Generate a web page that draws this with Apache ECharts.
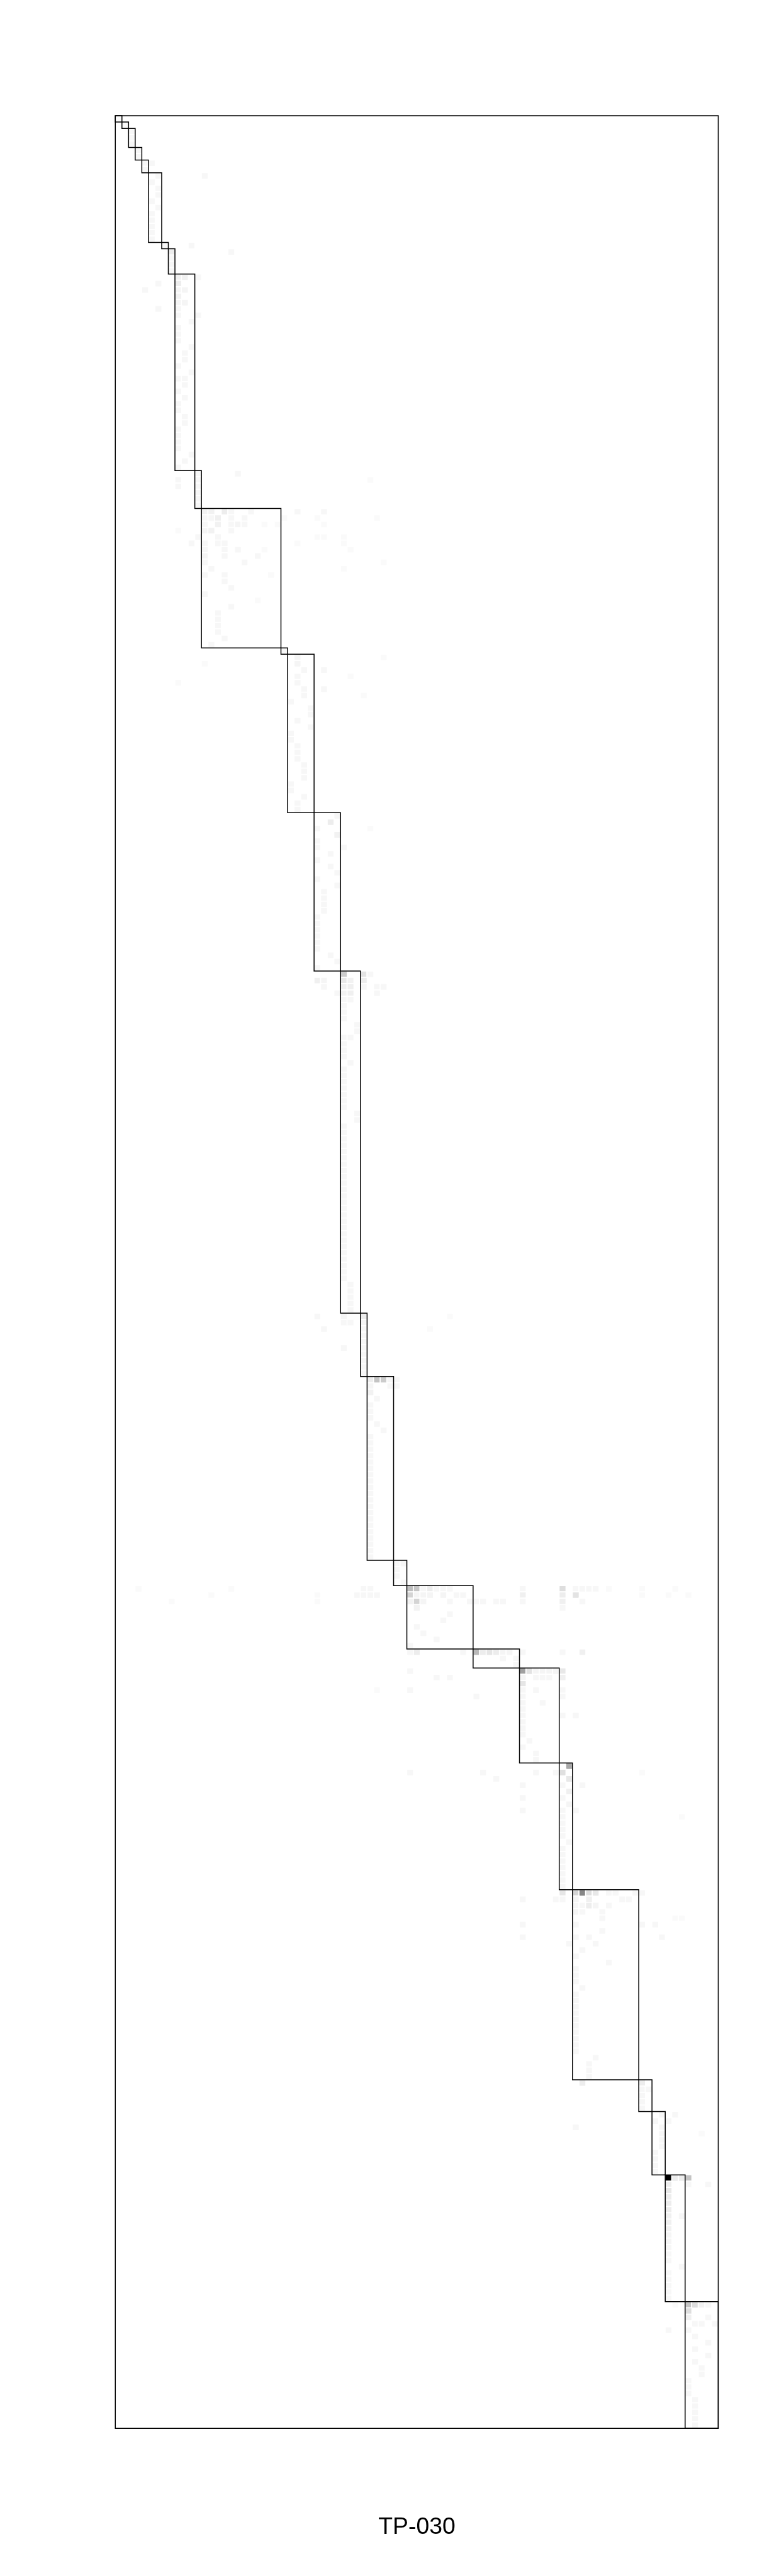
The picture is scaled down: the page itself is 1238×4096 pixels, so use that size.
<!DOCTYPE html>
<html>
<head>
<meta charset="utf-8">
<script src="https://cdn.jsdelivr.net/npm/echarts@6/dist/echarts.min.js"></script>
<style>
html,body{margin:0;padding:0;background:#fff;}
#chart{width:1238px;height:4096px;}
</style>
</head>
<body>
<div id="chart"></div>
<script>
// ---------- data ----------
const nCols = 91;
const nRows = 365;
const titleText = 'TP-030';
// block (box) boundaries along the diagonal: box i spans cols [colBounds[i], colBounds[i+1]) and rows [rowBounds[i], rowBounds[i+1])
const colBounds = [0,1,2,3,4,5,7,8,9,12,13,25,26,30,34,37,38,42,44,54,61,67,69,79,81,83,86,91];
const rowBounds = [0,1,2,5,7,9,20,21,25,56,62,84,85,110,135,189,199,228,232,242,245,260,280,310,315,325,345,365];

// non-empty cells: [col, row, intensity 0..1]
const cellsTop = [
[0,0,.02],[1,1,.02],[2,2,.03],[2,3,.03],[2,4,.03],[3,5,.03],[3,6,.03],[4,7,.03],[5,7,.03],[4,8,.03],
[6,9,.03],[13,9,.03],[5,10,.03],[6,11,.03],[6,12,.03],[5,13,.03],[6,14,.03],[5,15,.03],[5,16,.03],[5,17,.03],[5,18,.03],[5,19,.03],
[7,20,.03],[11,20,.03],[8,21,.07],[17,21,.03],[8,22,.03],[8,23,.03],[8,24,.03],
[9,25,.06],[10,25,.05],[12,25,.03],
[6,26,.03],[9,26,.07],[4,27,.03],[9,27,.04],[10,27,.04],[9,28,.05],[9,29,.04],[10,29,.04],[6,30,.03],[9,30,.03],[9,31,.03],[12,31,.03],[11,32,.03],[9,33,.03],[9,34,.03],[9,35,.03],[11,36,.03],[10,37,.03],[10,38,.03],[9,39,.03],[11,40,.03],[9,41,.03],[10,41,.03],[10,42,.03],[9,43,.03],[10,44,.03],[9,45,.03],[9,46,.03],[10,47,.03],[10,48,.03],[9,49,.03],[9,50,.03],[9,51,.03],[9,52,.03],[11,53,.03],[10,54,.03],[9,55,.03],
[12,56,.03],[18,56,.03],[9,57,.03],[12,57,.03],[38,57,.02],[9,58,.03],[12,58,.03],[12,59,.03],[12,60,.03],[12,61,.03],
[13,62,.05],[14,62,.05],[16,62,.07],[17,62,.03],[20,62,.03],[27,62,.03],[31,62,.03],
[13,63,.03],[14,63,.03],[15,63,.06],[17,63,.03],[19,63,.03],[25,63,.02],[30,63,.02],[39,63,.02],
[13,64,.03],[15,64,.05],[17,64,.03],[18,64,.04],[19,64,.03],[22,64,.02],[24,64,.02],[31,64,.02],
[9,65,.02],[13,65,.04],[14,65,.05],[17,65,.03],
[12,66,.03],[15,66,.03],[30,66,.02],[31,66,.02],[34,66,.02],
[11,67,.03],[13,67,.03],[15,67,.03],[16,67,.03],[27,67,.02],[34,67,.02],
[13,68,.03],[16,68,.03],[18,68,.03],[22,68,.02],[35,68,.02],
[13,69,.04],[16,69,.03],[21,69,.03],
[13,70,.03],[19,70,.03],[40,70,.02],
[14,71,.03],[34,71,.02],
[13,72,.03],[16,72,.03],[23,72,.02],
[16,73,.03],[17,74,.03],[13,75,.03],[21,76,.02],[17,77,.03],[15,78,.03],[15,79,.03],[15,80,.03],[15,81,.03],[16,82,.03],[14,83,.03],
[25,84,.03]
];
const cellsMid = [
[27,85,.04],[40,85,.02],[13,86,.02],[27,86,.04],[28,87,.03],[31,87,.03],[27,88,.03],[35,88,.02],[9,89,.02],[27,89,.03],[28,90,.03],[31,90,.03],[28,91,.03],[37,91,.02],
[26,92,.03],[29,93,.03],[29,94,.03],[27,95,.03],[29,96,.03],[26,97,.03],[26,98,.03],[27,99,.03],[27,100,.03],[27,101,.03],[28,102,.03],[28,103,.03],[28,104,.03],[26,105,.03],[26,106,.03],[28,107,.03],[27,108,.03],[27,109,.03],
[33,110,.03],[32,111,.07],[30,112,.03],[38,112,.02],[33,113,.05],[30,114,.03],[30,115,.03],[34,115,.03],[32,116,.03],[30,117,.03],[32,118,.03],[33,119,.03],[30,120,.03],[33,121,.03],[31,122,.03],[31,123,.03],[31,124,.03],[31,125,.03],[30,126,.03],[30,127,.03],[30,128,.03],[30,129,.03],[30,130,.03],[30,131,.03],[32,132,.03],[33,133,.03],[30,134,.03],
[34,135,.2],[37,135,.11],[38,135,.03],
[30,136,.06],[31,136,.04],[34,136,.09],[35,136,.05],[37,136,.07],
[31,137,.03],[34,137,.06],[35,137,.06],[37,137,.03],[39,137,.03],[40,137,.03],
[33,138,.03],[34,138,.05],[35,138,.06],[39,138,.03],
[34,139,.03],[35,139,.03],[34,140,.03],[34,141,.03],[34,142,.03],[36,143,.03],[36,144,.03],[34,145,.03],[35,145,.03],[34,146,.03],[34,147,.03],[34,148,.03],[35,149,.03],
[34,150,.03],[34,151,.03],[34,152,.03],[34,153,.03],[34,154,.03],[34,155,.03],[34,156,.03],[36,157,.03],[36,158,.03],
[34,159,.03],[34,160,.03],[34,161,.03],[34,162,.03],[34,163,.03],[34,164,.03],[34,165,.03],[34,166,.03],[34,167,.03],[34,168,.03],
[34,169,.03],[34,170,.03],[34,171,.03],[34,172,.03],[34,173,.03],[34,174,.03],[34,175,.03],[34,176,.03],[34,177,.03],[34,178,.03],
[34,179,.03],[34,180,.03],[34,181,.03],[34,182,.03],[34,183,.03],
[35,184,.03],[35,185,.03],[35,186,.03],[35,187,.03],[35,188,.03],
[30,189,.03],[34,189,.03],[37,189,.07],[50,189,.02],
[34,190,.03],[35,190,.03],[37,190,.04],
[31,191,.03],[37,191,.03],[47,191,.02],
[37,192,.03],[37,193,.03],[37,194,.03],[34,194,.03],[37,195,.03],[37,196,.03],[37,197,.03],[37,198,.03],
[38,199,.07],[39,199,.23],[40,199,.2],[41,199,.03],[42,199,.03],
[38,200,.04],[41,200,.03],[42,200,.03],
[38,201,.05],[39,202,.03],[38,203,.03],[38,204,.03],[38,205,.03],[39,206,.03],[40,207,.03],
[38,208,.03],[38,209,.03],[38,210,.03],[38,211,.03],[38,212,.03],[38,213,.03],[38,214,.03],[38,215,.03],[38,216,.03],[38,217,.03],
[38,218,.03],[38,219,.03],[38,220,.03],[38,221,.03],[38,222,.03],[38,223,.03],[38,224,.03],[38,225,.03],[38,226,.03],[38,227,.03],
[42,228,.03],[43,228,.03],[42,229,.03],[42,230,.03],[43,231,.03]
];
const cellsLow = [
[3,232,.02],[17,232,.02],[37,232,.03],[38,232,.03],[44,232,.25],[45,232,.22],[46,232,.03],[47,232,.07],[48,232,.03],[49,232,.03],[50,232,.03],[61,232,.03],[67,232,.13],[69,232,.03],[70,232,.03],[71,232,.03],[72,232,.03],[74,232,.02],[79,232,.02],[84,232,.02],
[14,233,.02],[30,233,.02],[36,233,.03],[37,233,.03],[38,233,.03],[39,233,.03],[44,233,.17],[45,233,.04],[46,233,.04],[47,233,.04],[49,233,.04],[51,233,.03],[52,233,.03],[61,233,.06],[67,233,.07],[69,233,.11],[79,233,.02],[83,233,.02],[86,233,.02],
[8,234,.02],[30,234,.02],[44,234,.05],[45,234,.17],[46,234,.04],[50,234,.03],[53,234,.03],[54,234,.03],[55,234,.03],[57,234,.03],[58,234,.03],[61,234,.03],[67,234,.06],[70,234,.03],
[45,235,.05],[67,235,.03],[50,236,.03],[49,237,.03],[45,238,.03],[46,239,.03],[48,240,.03],[44,241,.03],
[44,242,.03],[45,242,.07],[52,242,.03],[54,242,.27],[55,242,.07],[56,242,.1],[57,242,.07],[58,242,.04],[59,242,.04],[61,242,.03],[67,242,.03],[70,242,.06],
[58,243,.03],[60,243,.03],[60,244,.03],
[44,245,.03],[61,245,.37],[62,245,.11],[63,245,.04],[64,245,.04],[65,245,.04],[66,245,.04],[67,245,.09],
[48,246,.03],[50,246,.03],[61,246,.04],[63,246,.03],[64,246,.03],[65,246,.03],[67,246,.06],
[61,247,.1],
[39,248,.02],[44,248,.03],[61,248,.03],[63,248,.03],[67,248,.03],
[54,249,.03],[61,249,.03],[67,249,.03],
[61,250,.03],[64,250,.03],[61,251,.03],[61,252,.03],[67,252,.03],[69,252,.03],[61,253,.03],[61,254,.03],[61,255,.03],[62,256,.03],[61,257,.03],[63,258,.03],[63,259,.03],
[68,260,.34],
[44,261,.03],[55,261,.03],[63,261,.03],[66,261,.03],[67,261,.12],[79,261,.02],
[57,262,.03],[68,262,.09],
[61,263,.03],[67,263,.03],[70,263,.03],
[68,264,.06],[61,265,.03],[67,265,.03],[68,266,.04],[61,267,.03],[67,267,.03],[69,267,.03],[67,268,.03],[85,268,.02],
[67,269,.03],[67,270,.03],[67,271,.03],[68,272,.03],[67,273,.03],[67,274,.03],[67,275,.03],[67,276,.03],[67,277,.03],[67,278,.03],[67,279,.03],
[67,280,.1],[69,280,.17],[70,280,.47],[71,280,.13],[72,280,.09],[74,280,.03],[75,280,.03],[78,280,.03],[79,280,.03],
[61,281,.03],[66,281,.03],[67,281,.03],[69,281,.04],[71,281,.06],[76,281,.03],[77,281,.03],
[69,282,.03],[70,282,.03],[71,282,.07],[72,282,.04],[74,282,.03],
[69,283,.04],[70,283,.03],[73,283,.03],
[73,284,.03],[84,284,.02],[85,284,.02],
[61,285,.03],[69,285,.03],[79,285,.03],[81,285,.03],
[73,286,.03],
[61,287,.03],[69,287,.03],[71,287,.03],[82,287,.03],
[68,288,.03],[72,288,.03],[70,289,.03],[69,290,.03],[74,291,.03],[69,292,.03],[69,293,.03],[69,294,.03],[70,295,.03],
[69,296,.03],[69,297,.03],[69,298,.03],[69,299,.03],[69,300,.03],[69,301,.03],[69,302,.03],[69,303,.03],[69,304,.03],[69,305,.03],
[72,306,.03],[71,307,.03],[71,308,.03],[71,309,.03],
[70,310,.07],[79,310,.07],
[79,311,.03],[80,311,.03],[79,312,.03],[79,313,.03],[79,314,.03],
[82,315,.03],[84,315,.03],[81,316,.03],[83,316,.03],[69,317,.03],[82,317,.03],[82,318,.03],[88,318,.02],[82,319,.03],[82,320,.03],[81,321,.03],[81,322,.03],[81,323,.03],[81,324,.03],
[83,325,1],[84,325,.07],[85,325,.07],[86,325,.23],
[83,326,.07],[86,326,.03],[89,326,.03],
[83,327,.09],[83,328,.07],[83,329,.07],[83,330,.07],[83,331,.06],[85,331,.03],[83,332,.06],[83,333,.05],[83,334,.04],[83,335,.04],[83,336,.03],[83,337,.03],[83,338,.03],[85,339,.03],[83,340,.03],[83,341,.03],[83,342,.03],[83,343,.03],[83,344,.03],
[84,345,.02],[86,345,.23],[87,345,.13],[88,345,.05],[89,345,.03],
[86,346,.13],[86,347,.06],[89,347,.03],[87,348,.03],[88,348,.03],[90,348,.03],[83,349,.03],[86,349,.03],[87,350,.03],[89,351,.03],[87,352,.03],[89,353,.03],[87,354,.03],[88,355,.03],[88,356,.03],[86,357,.03],[86,358,.03],[86,359,.03],
[87,360,.03],[87,361,.03],[87,362,.03],[87,363,.03],[87,364,.03]
];

// ---------- build ----------
const xCats = [];
for (let i = 0; i < nCols; i++) xCats.push(String(i));
const yCats = [];
for (let i = 0; i < nRows; i++) yCats.push(String(i));
const cells = cellsTop.concat(cellsMid, cellsLow);
const boxes = [];
for (let i = 0; i + 1 < colBounds.length; i++) {
  boxes.push([colBounds[i], rowBounds[i], colBounds[i + 1], rowBounds[i + 1]]);
}

const S = 0.748;
const chart = echarts.init(document.getElementById('chart'), null, {renderer: 'canvas'});
chart.setOption({
  animation: false,
  backgroundColor: '#ffffff',
  title: {
    text: titleText,
    left: 885.8 * S,
    top: 5373 * S,
    textAlign: 'center',
    textVerticalAlign: 'middle',
    padding: 0,
    textStyle: {fontFamily: 'Liberation Sans, Arial, sans-serif', fontSize: 50 * S, fontWeight: 'normal', color: '#000'}
  },
  grid: {left: 245 * S, top: 246 * S, width: 1281 * S, height: 4916 * S, containLabel: false, show: false},
  xAxis: {type: 'category', data: xCats, show: false, boundaryGap: true},
  yAxis: {type: 'category', data: yCats, show: false, inverse: true, boundaryGap: true},
  visualMap: {show: false, type: 'continuous', min: 0, max: 1, dimension: 2, seriesIndex: 0, inRange: {color: ['#ffffff', '#000000']}},
  series: [
    {
      type: 'heatmap',
      data: cells,
      silent: true,
      itemStyle: {borderColor: '#ffffff', borderWidth: 2.3 * S},
      z: 1
    },
    {
      type: 'custom',
      data: boxes,
      silent: true,
      clip: false,
      encode: {x: 0, y: 1},
      z: 5,
      renderItem: function (params, api) {
        const c0 = api.value(0), r0 = api.value(1), c1 = api.value(2), r1 = api.value(3);
        const p = api.coord([c0, r0]);
        const s = api.size([1, 1]);
        return {
          type: 'rect',
          shape: {x: p[0] - s[0] / 2, y: p[1] - s[1] / 2, width: (c1 - c0) * s[0], height: (r1 - r0) * s[1]},
          style: {fill: null, stroke: '#000', lineWidth: 2 * S}
        };
      }
    },
    {
      type: 'custom',
      data: [[0, 0]],
      silent: true,
      clip: false,
      z: 6,
      renderItem: function (params, api) {
        const cs = params.coordSys;
        return {
          type: 'rect',
          shape: {x: cs.x, y: cs.y, width: cs.width, height: cs.height},
          style: {fill: null, stroke: '#000', lineWidth: 2 * S}
        };
      }
    }
  ]
});
</script>
</body>
</html>
